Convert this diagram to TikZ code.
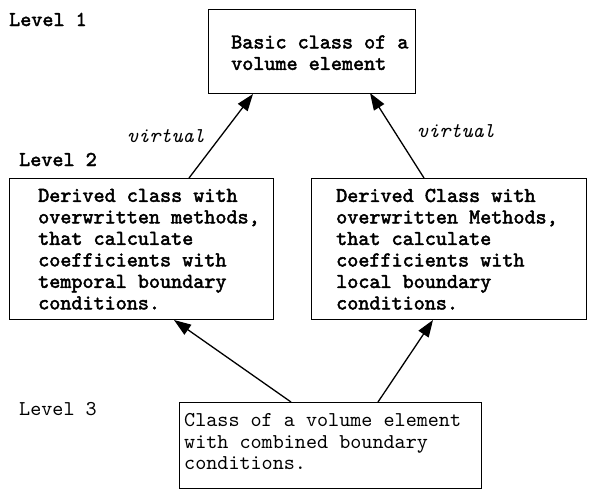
\documentclass[tikz,border=0pt]{standalone}
\usepackage{fontspec}
\setmonofont{lmmono10-regular}[Extension=.otf,ItalicFont=lmmono10-italic,BoldFont=lmmono10-regular,BoldFeatures={FakeBold=2.2}]
\usetikzlibrary{arrows.meta}
\begin{document}
\begin{tikzpicture}[x=1pt,y=-1pt,
  classbox/.style={draw,line width=1.4pt,anchor=north west,inner sep=0pt},
  txt/.style={anchor=west,align=left,inner sep=0pt,font=\ttfamily\fontsize{21.1}{21.5}\selectfont},
  btxt/.style={txt,font=\ttfamily\bfseries\fontsize{21.1}{21.5}\selectfont},
  lvl/.style={anchor=base west,inner sep=0pt,font=\ttfamily\bfseries\fontsize{21.1}{21.5}\selectfont},
  lvlr/.style={anchor=base west,inner sep=0pt,font=\ttfamily\fontsize{21.1}{21.5}\selectfont},
  virt/.style={anchor=base west,inner sep=0pt,font=\ttfamily\itshape\fontsize{21.1}{21.5}\selectfont},
  inh/.style={line width=1.3pt,-{Triangle[length=17pt,width=12pt]}}]
\useasboundingbox (0,0) rectangle (592,488);
% boxes
\node[classbox,minimum width=207pt,minimum height=84pt] (base) at (208,9) {};
\node[classbox,minimum width=264pt,minimum height=141pt] (left) at (9,178) {};
\node[classbox,minimum width=275pt,minimum height=141pt] (right) at (311,178) {};
\node[classbox,minimum width=302pt,minimum height=86pt] (comb) at (179,402) {};
% texts
\node[btxt] (tbase) at ([xshift=23pt,yshift=-1pt]base.west) {Basic class of a\\volume element};
\node[btxt] (tleft) at ([xshift=29pt]left.west) {Derived class with\\overwritten methods,\\that calculate\\coefficients with\\temporal boundary\\conditions.};
\node[btxt] (tright) at ([xshift=25pt]right.west) {Derived Class with\\overwritten Methods,\\that calculate\\coefficients with\\local boundary\\conditions.};
\node[txt] (tcomb) at ([xshift=5pt,yshift=4pt]comb.west) {Class of a volume element\\with combined boundary\\conditions.};
% level labels
\node[lvl] (l1) at (9,26) {Level 1};
\node[lvl] (l2) at (19,166) {Level 2};
\node[lvlr] (l3) at (19,415) {Level 3};
\node[virt] (v1) at (127,142) {virtual};
\node[virt] (v2) at (417,137) {virtual};
% arrows
\coordinate (a1s) at (189,178); \coordinate (a1e) at (253,94);
\coordinate (a2s) at (424,178); \coordinate (a2e) at (370,93);
\coordinate (a3s) at (291,402); \coordinate (a3e) at (174,320);
\coordinate (a4s) at (378,402); \coordinate (a4e) at (433,320);
\draw[inh] (a1s) -- (a1e);
\draw[inh] (a2s) -- (a2e);
\draw[inh] (a3s) -- (a3e);
\draw[inh] (a4s) -- (a4e);
\end{tikzpicture}
\end{document}
